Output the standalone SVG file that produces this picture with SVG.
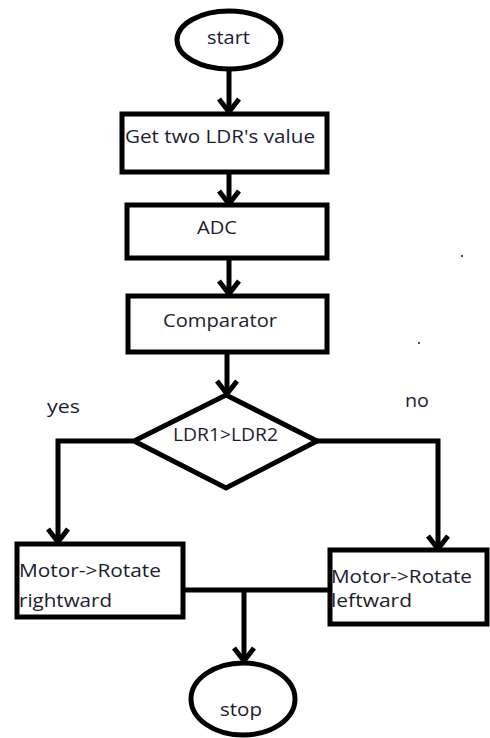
<svg xmlns="http://www.w3.org/2000/svg" width="490" height="738" viewBox="0 0 490 738">
<style>
.shape{fill:#fff;stroke:#000;stroke-width:5}
.line{fill:none;stroke:#000;stroke-width:5}
.t{font-family:"Open Sans","Liberation Sans",sans-serif;font-size:19px;fill:#1c1c30}
</style>
<defs>
<marker id="arr" markerUnits="userSpaceOnUse" markerWidth="30" markerHeight="30" refX="0" refY="0" orient="auto" overflow="visible">
<path d="M-13,-10 L0,0 L-13,10" fill="none" stroke="#000" stroke-width="5" stroke-linejoin="miter"/>
</marker>
</defs>
<rect width="490" height="738" fill="#fff"/>
<g id="connectors">
<path class="line" d="M229,70 V112" marker-end="url(#arr)"/>
<path class="line" d="M229,172 V204" marker-end="url(#arr)"/>
<path class="line" d="M229,258 V294" marker-end="url(#arr)"/>
<path class="line" d="M227,352 V394" marker-end="url(#arr)"/>
<path class="line" d="M133,441 H58 V542" marker-end="url(#arr)"/>
<path class="line" d="M317,441 H438 V549" marker-end="url(#arr)"/>
<path class="line" d="M179,590 H329"/>
<path class="line" d="M244,590 V661" marker-end="url(#arr)"/>
</g>
<g id="start">
<ellipse class="shape" cx="229" cy="40" rx="52" ry="29"/>
<text class="t" x="207" y="44" textLength="43" lengthAdjust="spacingAndGlyphs">start</text>
</g>
<g id="get">
<rect class="shape" x="122" y="114" width="205" height="58"/>
<text class="t" x="125" y="143" textLength="190" lengthAdjust="spacingAndGlyphs">Get two LDR's value</text>
</g>
<g id="adc">
<rect class="shape" x="127" y="205" width="200" height="53"/>
<text class="t" x="197" y="234" textLength="40" lengthAdjust="spacingAndGlyphs">ADC</text>
</g>
<g id="comparator">
<rect class="shape" x="128" y="296" width="199" height="56"/>
<text class="t" x="163" y="327" textLength="114" lengthAdjust="spacingAndGlyphs">Comparator</text>
</g>
<g id="decision">
<polygon class="shape" points="226,395 317,441 226,488 134,441"/>
<text class="t" x="173" y="441" textLength="105" lengthAdjust="spacingAndGlyphs">LDR1&gt;LDR2</text>
</g>
<g id="labels">
<text class="t" x="47" y="413" textLength="33" lengthAdjust="spacingAndGlyphs">yes</text>
<text class="t" x="405" y="407" textLength="24" lengthAdjust="spacingAndGlyphs">no</text>
</g>
<g id="right-rotate">
<rect class="shape" x="17" y="544" width="166" height="73"/>
<text class="t" x="19" y="577" textLength="142" lengthAdjust="spacingAndGlyphs">Motor-&gt;Rotate</text>
<text class="t" x="19" y="607" textLength="93" lengthAdjust="spacingAndGlyphs">rightward</text>
</g>
<g id="left-rotate">
<rect class="shape" x="330" y="550" width="157" height="74"/>
<text class="t" x="331" y="583" textLength="141" lengthAdjust="spacingAndGlyphs">Motor-&gt;Rotate</text>
<text class="t" x="331" y="607" textLength="81" lengthAdjust="spacingAndGlyphs">leftward</text>
</g>
<g id="stop">
<ellipse class="shape" cx="243" cy="699" rx="52" ry="36"/>
<text class="t" x="220" y="716" textLength="42" lengthAdjust="spacingAndGlyphs">stop</text>
</g>
<rect x="461" y="255" width="2" height="2" fill="#555"/>
<rect x="418" y="342" width="2" height="2" fill="#555"/>
</svg>
